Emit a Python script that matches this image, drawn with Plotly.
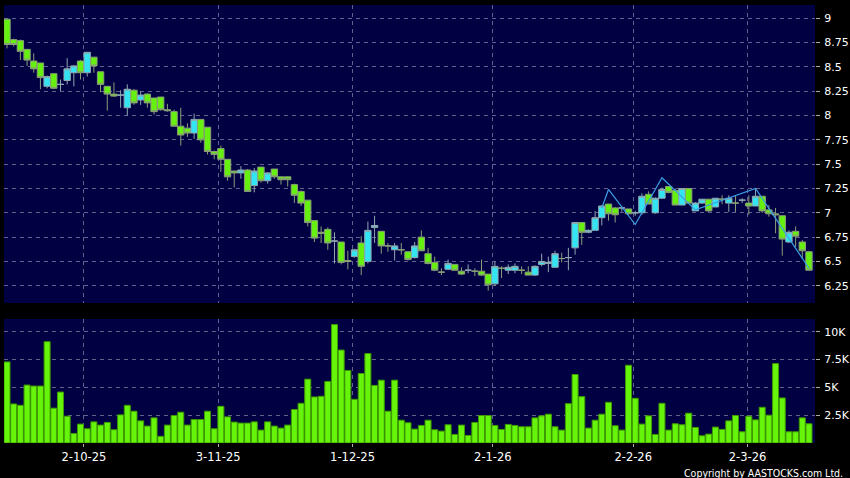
import plotly.graph_objects as go

# ---- data ----
open_ = [8.99, 8.78, 8.77, 8.68, 8.56, 8.54, 8.30, 8.43, 8.32, 8.36,
         8.44, 8.56, 8.44, 8.60, 8.45, 8.30, 8.22, 8.21, 8.08, 8.26,
         8.16, 8.22, 8.18, 8.19, 8.06, 8.04, 7.89, 7.87, 7.82, 7.96,
         7.88, 7.63, 7.66, 7.55, 7.43, 7.41, 7.44, 7.28, 7.47, 7.33,
         7.45, 7.37, 7.37, 7.29, 7.22, 7.13, 6.92, 6.80, 6.83, 6.71,
         6.70, 6.51, 6.55, 6.69, 6.50, 6.85, 6.81, 6.66, 6.62, 6.62,
         6.60, 6.54, 6.75, 6.58, 6.49, 6.39, 6.42, 6.47, 6.40, 6.41,
         6.40, 6.40, 6.37, 6.27, 6.43, 6.41, 6.41, 6.41, 6.39, 6.36,
         6.47, 6.48, 6.44, 6.53, 6.54, 6.64, 6.90, 6.80, 6.82, 6.95,
         7.09, 7.05, 7.05, 7.04, 7.00, 7.00, 7.19, 7.00, 7.15, 7.27,
         7.23, 7.08, 7.25, 7.02, 7.10, 7.14, 7.06, 7.14, 7.10, 7.10,
         7.13, 7.10, 7.07, 7.17, 7.03, 6.99, 6.97, 6.70, 6.81, 6.70,
         6.60]
high = [8.99, 8.79, 8.78, 8.68, 8.64, 8.54, 8.41, 8.43, 8.37, 8.59,
        8.52, 8.57, 8.65, 8.60, 8.45, 8.30, 8.34, 8.26, 8.32, 8.27,
        8.25, 8.23, 8.18, 8.19, 8.12, 8.06, 8.08, 7.92, 8.02, 7.96,
        7.88, 7.64, 7.69, 7.55, 7.43, 7.48, 7.45, 7.46, 7.47, 7.42,
        7.45, 7.37, 7.37, 7.30, 7.23, 7.13, 6.92, 6.86, 6.85, 6.80,
        6.70, 6.61, 6.63, 6.76, 6.91, 6.97, 6.81, 6.69, 6.69, 6.69,
        6.60, 6.70, 6.82, 6.64, 6.55, 6.43, 6.52, 6.47, 6.44, 6.47,
        6.43, 6.52, 6.37, 6.50, 6.45, 6.47, 6.48, 6.45, 6.45, 6.46,
        6.58, 6.55, 6.61, 6.59, 6.64, 6.90, 6.90, 6.83, 7.02, 7.08,
        7.09, 7.06, 7.07, 7.04, 7.02, 7.20, 7.22, 7.16, 7.26, 7.27,
        7.25, 7.25, 7.25, 7.11, 7.14, 7.14, 7.15, 7.18, 7.18, 7.18,
        7.15, 7.18, 7.25, 7.17, 7.08, 7.05, 6.97, 6.82, 6.86, 6.72,
        6.61]
low = [8.69, 8.71, 8.57, 8.51, 8.44, 8.27, 8.28, 8.27, 8.25, 8.32,
       8.30, 8.37, 8.40, 8.44, 8.24, 8.05, 8.19, 8.08, 8.00, 8.11,
       8.11, 8.08, 8.01, 8.05, 8.04, 7.89, 7.69, 7.78, 7.76, 7.72,
       7.60, 7.55, 7.42, 7.33, 7.26, 7.35, 7.22, 7.21, 7.31, 7.30,
       7.35, 7.29, 7.27, 7.10, 7.07, 6.86, 6.70, 6.69, 6.62, 6.48,
       6.47, 6.42, 6.54, 6.36, 6.48, 6.69, 6.58, 6.60, 6.51, 6.57,
       6.51, 6.53, 6.61, 6.47, 6.40, 6.36, 6.41, 6.41, 6.36, 6.38,
       6.35, 6.35, 6.20, 6.25, 6.33, 6.37, 6.38, 6.37, 6.36, 6.35,
       6.45, 6.39, 6.44, 6.49, 6.41, 6.57, 6.67, 6.79, 6.82, 6.87,
       6.92, 6.90, 7.01, 6.98, 6.97, 6.98, 7.09, 6.99, 7.15, 7.20,
       7.08, 7.08, 7.10, 7.02, 7.09, 7.01, 7.06, 7.09, 7.01, 7.01,
       7.10, 6.98, 7.07, 7.00, 6.96, 6.79, 6.56, 6.69, 6.65, 6.53,
       6.41]
close = [8.73, 8.73, 8.66, 8.57, 8.48, 8.39, 8.40, 8.28, 8.32, 8.48,
         8.51, 8.44, 8.65, 8.51, 8.32, 8.22, 8.20, 8.21, 8.27, 8.13,
         8.21, 8.13, 8.04, 8.06, 8.05, 7.89, 7.80, 7.82, 7.96, 7.75,
         7.63, 7.60, 7.55, 7.37, 7.41, 7.44, 7.22, 7.43, 7.33, 7.41,
         7.37, 7.34, 7.34, 7.18, 7.10, 6.90, 6.74, 6.79, 6.69, 6.71,
         6.49, 6.50, 6.62, 6.45, 6.82, 6.87, 6.66, 6.66, 6.66, 6.62,
         6.52, 6.66, 6.61, 6.48, 6.41, 6.39, 6.48, 6.41, 6.37, 6.41,
         6.40, 6.36, 6.26, 6.45, 6.43, 6.44, 6.45, 6.41, 6.36, 6.45,
         6.50, 6.49, 6.58, 6.53, 6.54, 6.90, 6.80, 6.82, 6.95, 7.07,
         6.99, 6.98, 7.05, 6.99, 7.00, 7.17, 7.09, 7.15, 7.24, 7.21,
         7.08, 7.25, 7.10, 7.10, 7.14, 7.02, 7.15, 7.14, 7.15, 7.10,
         7.13, 7.07, 7.17, 7.02, 6.99, 6.98, 6.73, 6.80, 6.76, 6.61,
         6.41]
volume_k = [7.29, 3.51, 3.39, 5.21, 5.12, 5.12, 9.11, 3.13, 4.58, 2.41,
            0.86, 1.70, 1.28, 1.90, 1.61, 1.85, 1.19, 2.53, 3.39, 2.86,
            1.99, 1.52, 2.26, 0.60, 1.61, 2.47, 2.77, 1.61, 2.11, 2.11,
            2.86, 1.28, 3.30, 2.35, 1.88, 1.79, 1.79, 1.90, 1.16, 1.90,
            1.52, 1.34, 1.61, 3.01, 3.57, 5.74, 4.14, 4.20, 5.54, 10.65,
            8.36, 6.52, 3.93, 6.25, 8.04, 5.18, 5.65, 2.86, 5.65, 2.05,
            1.82, 1.25, 1.58, 2.05, 1.19, 1.07, 1.64, 0.77, 1.61, 0.68,
            1.85, 2.47, 2.47, 1.58, 1.22, 1.67, 1.58, 1.46, 1.46, 2.26,
            2.44, 2.59, 1.46, 1.16, 3.54, 6.16, 4.17, 1.34, 2.05, 2.59,
            3.66, 1.55, 1.16, 6.99, 4.02, 1.70, 2.44, 0.77, 3.57, 1.16,
            1.73, 1.64, 2.68, 1.40, 0.65, 0.80, 1.43, 1.22, 1.99, 2.47,
            1.01, 2.41, 2.08, 3.21, 2.50, 7.14, 4.05, 1.01, 1.01, 2.26,
            1.73]

# overlay line (turning points)
line_idx = [89, 90, 94, 98, 103, 112, 120]
line_val = [7.05, 7.24, 6.88, 7.36, 7.03, 7.25, 6.43]

# axis labels
date_labels = ["2-10-25", "3-11-25", "1-12-25", "2-1-26", "2-2-26", "2-3-26"]
date_pos = [11.5, 31.6, 51.7, 72.7, 93.7, 110.8]
price_ticks = [9, 8.75, 8.5, 8.25, 8, 7.75, 7.5, 7.25, 7, 6.75, 6.5, 6.25]
price_labels = ["9", "8.75", "8.5", "8.25", "8", "7.75", "7.5", "7.25",
                "7", "6.75", "6.5", "6.25"]
vol_ticks = [2.5, 5, 7.5, 10]
vol_labels = ["2.5K", "5K", "7.5K", "10K"]

x = list(range(len(close)))

BG = "#000042"
GRID = "#62628e"
GREEN = "#66f00f"
CYAN = "#33e4f2"
TXT = "#ffffff"
FONT = "DejaVu Sans, Verdana, sans-serif"

fig = go.Figure()
fig.add_trace(go.Candlestick(
    x=x, open=open_, high=high, low=low, close=close,
    increasing=dict(fillcolor=CYAN, line=dict(color="#8fa8b0", width=1)),
    decreasing=dict(fillcolor=GREEN, line=dict(color="#8a9f78", width=1)),
    whiskerwidth=0, xaxis="x", yaxis="y", showlegend=False,
))
fig.add_trace(go.Scatter(
    x=line_idx, y=line_val, mode="lines",
    line=dict(color="#3a9fe6", width=1.2),
    xaxis="x", yaxis="y", showlegend=False,
))
fig.add_trace(go.Bar(
    x=x, y=volume_k, marker=dict(color="#66f50a", line=dict(color="#3e9a00", width=1)),
    xaxis="x2", yaxis="y2", showlegend=False,
))

xr = [-0.45, 120.9]
common_grid = dict(showgrid=True, gridcolor=GRID, griddash="4px,4px", gridwidth=1,
                   zeroline=False, showline=False, automargin=False)
fig.update_layout(
    template="none",
    width=850, height=478,
    margin=dict(l=4, r=35, t=5, b=35, autoexpand=False),
    paper_bgcolor="#000000", plot_bgcolor=BG,
    font=dict(family=FONT, color=TXT, size=11),
    boxgap=0.05, boxgroupgap=0.0, bargap=0.1,
    xaxis=dict(domain=[0, 1], anchor="y", range=xr, rangeslider=dict(visible=False),
               tickmode="array", tickvals=date_pos, ticktext=date_labels,
               showticklabels=False, ticks="", **common_grid),
    yaxis=dict(domain=[0.3196, 1], anchor="x", side="right", range=[6.073, 9.136],
               tickmode="array", tickvals=price_ticks, ticktext=price_labels,
               ticks="outside", ticklen=4, tickcolor="#aaaaaa", tickwidth=1,
               ticklabelstandoff=2,
               tickfont=dict(size=11, color=TXT), **common_grid),
    xaxis2=dict(domain=[0, 1], anchor="y2", range=xr,
                tickmode="array", tickvals=date_pos, ticktext=date_labels,
                ticks="outside", ticklen=3, tickcolor="#aaaaaa", tickwidth=1,
                tickfont=dict(size=11.5, color=TXT), **common_grid),
    yaxis2=dict(domain=[0, 0.2831], anchor="x2", side="right", range=[0, 11.15],
                tickmode="array", tickvals=vol_ticks, ticktext=vol_labels,
                ticks="outside", ticklen=4, tickcolor="#aaaaaa", tickwidth=1,
                ticklabelstandoff=2,
                tickfont=dict(size=11, color=TXT), **common_grid),
    annotations=[dict(
        text="Copyright by AASTOCKS.com Ltd.", xref="paper", yref="paper",
        x=1.037, y=-0.068, xanchor="right", yanchor="middle", showarrow=False,
        font=dict(family="DejaVu Sans Condensed, Liberation Sans Narrow, Liberation Sans, sans-serif",
                  size=10.5, color=TXT),
    )],
    hovermode=False,
)

fig.write_html(
    "out.html",
    config={"displayModeBar": False},
    post_script="document.body.style.margin='0px';document.body.style.padding='0px';"
                "document.body.style.background='#000000';document.body.style.overflow='hidden';",
)
